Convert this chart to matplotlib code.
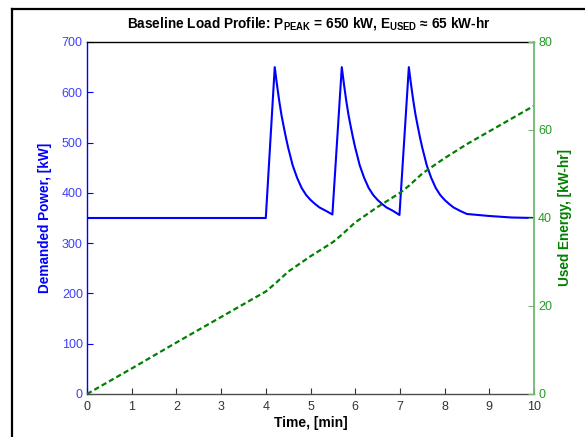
import matplotlib
matplotlib.use("Agg")
import matplotlib.pyplot as plt
from matplotlib.lines import Line2D

plt.rcParams['font.family'] = 'Liberation Sans'
plt.rcParams['mathtext.fontset'] = 'custom'
plt.rcParams['mathtext.rm'] = 'Liberation Sans'
plt.rcParams['mathtext.bf'] = 'Liberation Sans:bold'

# power profile (min, kW)
t_power = [0, 4.00,
           4.20, 4.25, 4.30, 4.35, 4.40, 4.45, 4.50, 4.60, 4.70, 4.80, 4.90, 5.00, 5.10, 5.20, 5.35, 5.49,
           5.70, 5.75, 5.80, 5.85, 5.90, 5.95, 6.00, 6.10, 6.20, 6.30, 6.40, 6.50, 6.60, 6.70, 6.85, 6.99,
           7.20, 7.25, 7.30, 7.35, 7.40, 7.45, 7.50, 7.60, 7.70, 7.80, 7.90, 8.00, 8.10, 8.20, 8.35, 8.50,
           8.75, 9.00, 9.50, 10.0]
power = [350, 350,
         650, 615, 583, 555, 532, 510, 490, 455, 430, 410, 396, 386, 378, 371, 364, 357,
         650, 615, 583, 555, 532, 510, 490, 455, 430, 410, 396, 386, 378, 371, 364, 356,
         650, 615, 583, 555, 532, 510, 490, 455, 430, 410, 396, 386, 378, 371, 364, 358,
         356, 354, 351, 350]

# used energy (min, kW-hr)
t_energy = [0, 1, 2, 3, 4, 4.2, 4.5, 5.0, 5.5, 5.7, 6.0, 6.5, 7.0, 7.2, 7.5, 8.0, 8.5, 9.0, 9.5, 10]
energy = [0, 5.8, 11.7, 17.5, 23.3, 25.0, 27.8, 31.3, 34.5, 36.2, 39.0, 42.5, 45.7, 47.3,
          50.1, 53.6, 56.8, 59.7, 62.6, 65.5]

x_ticks = list(range(0, 11))
p_ticks = [0, 100, 200, 300, 400, 500, 600, 700]
e_ticks = [0, 20, 40, 60, 80]

blue = (0, 0, 1)
green = (0, 0.5, 0)
light_green = (0.45, 0.72, 0.45)

fig = plt.figure(figsize=(5.85, 4.37), dpi=100)
ax = fig.add_axes([87 / 585, 1 - 394 / 437, 447 / 585, 352 / 437])
ax2 = ax.twinx()

ax.plot(t_power, power, color=blue, lw=1.5, zorder=3)
ax2.plot(t_energy, energy, color=green, lw=1.6, linestyle=(0, (2.4, 1.4)))

ax.set_xlim(0, 10)
ax.set_ylim(0, 700)
ax2.set_ylim(0, 80)
ax.set_xticks(x_ticks)
ax.set_yticks(p_ticks)
ax2.set_yticks(e_ticks)

ax.tick_params(axis='x', direction='in', length=4, colors=(0.2, 0.2, 0.2), labelsize=9, pad=5)
ax.tick_params(axis='y', direction='in', length=4, colors=blue, labelsize=9, pad=3)
ax.tick_params(axis='y', labelcolor=(0.25, 0.25, 1))
ax2.tick_params(axis='y', direction='in', length=4, colors=light_green, labelsize=9, pad=3)
ax2.tick_params(axis='y', labelcolor=(0.15, 0.6, 0.15))

ax.spines['left'].set_color(blue)
ax.spines['top'].set_color('black')
ax.spines['bottom'].set_color((0.3, 0.3, 0.3))
ax.spines['right'].set_visible(False)
for s in ['left', 'top', 'bottom']:
    ax2.spines[s].set_visible(False)
ax2.spines['right'].set_color(light_green)
for s in ax.spines.values():
    s.set_linewidth(1.0)
ax2.spines['right'].set_linewidth(1.3)

ax.set_xlabel('Time, [min]', fontsize=10, fontweight='bold', va='center')
ax.xaxis.set_label_coords(0.5, (394 - 423) / 352)
ax.set_ylabel('Demanded Power, [kW]', fontsize=9.8, fontweight='bold', color=blue, va='center')
ax.yaxis.set_label_coords((45 - 87) / 447, 0.5)
ax2.set_ylabel('Used Energy, [kW-hr]', fontsize=9.8, fontweight='bold', color=green, va='center')
ax2.yaxis.set_label_coords((565 - 87) / 447, 0.5)

fig.text(309 / 585, 1 - 27 / 437,
         r'Baseline Load Profile: $\mathbf{P}_{\mathbf{PEAK}}$ = 650 kW, '
         r'$\mathbf{E}_{\mathbf{USED}}$ ≈ 65 kW-hr',
         ha='center', va='baseline', fontsize=9.8, fontweight='bold')

# black frame from the screenshot
fig.add_artist(Line2D([12 / 585, 12 / 585], [0, 1 - 9 / 437], color='black', lw=1.6,
                      transform=fig.transFigure))
fig.add_artist(Line2D([12 / 585, 1], [1 - 9 / 437, 1 - 9 / 437], color='black', lw=1.6,
                      transform=fig.transFigure))

fig.savefig('out.png', dpi=100)
